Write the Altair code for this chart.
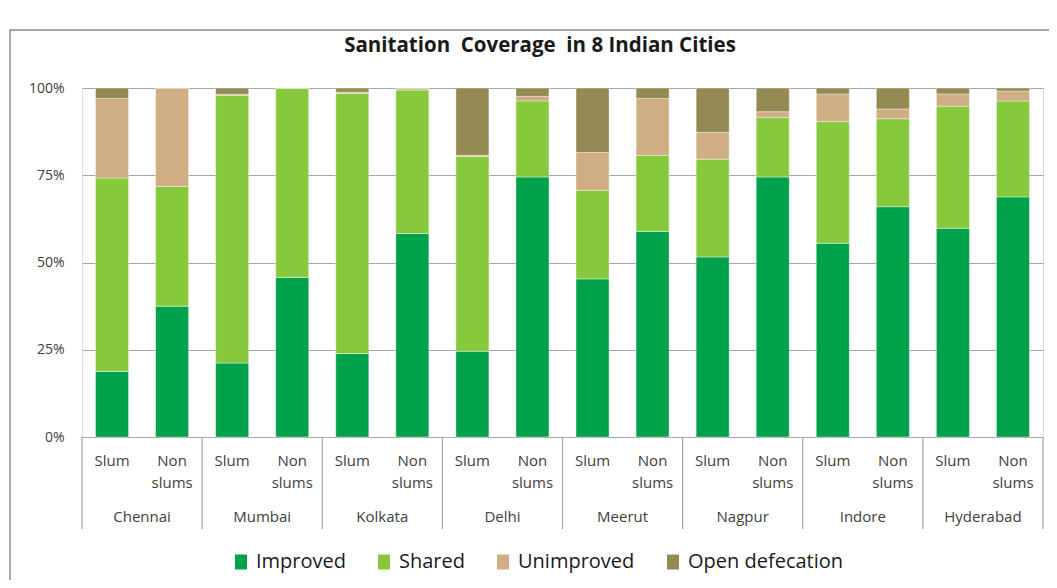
import altair as alt
import pandas as pd

cities = ["Chennai", "Mumbai", "Kolkata", "Delhi", "Meerut", "Nagpur", "Indore", "Hyderabad"]
types = ["Slum", "Non slums"]
type_labels = ["Slum", "Non\nslums"]
categories = ["Improved", "Shared", "Unimproved", "Open defecation"]
colors = ["#00A14B", "#87C93C", "#CFAE84", "#948A54"]

# order: city by city, Slum then Non slums
improved = [18.8, 37.5, 21.2, 45.7, 23.9, 58.3, 24.6, 74.5, 45.3, 58.9, 51.6, 74.5, 55.5, 66.0, 59.8, 68.8]
shared = [55.4, 34.3, 76.7, 54.3, 74.5, 41.1, 55.8, 21.8, 25.4, 21.8, 28.0, 17.1, 34.9, 25.2, 35.0, 27.5]
unimproved = [22.8, 28.2, 0.3, 0.0, 0.4, 0.6, 0.3, 1.3, 10.8, 16.3, 7.7, 1.6, 7.9, 2.8, 3.5, 2.8]
open_def = [3.0, 0.0, 1.8, 0.0, 1.2, 0.0, 19.3, 2.4, 18.5, 3.0, 12.7, 6.8, 1.7, 6.0, 1.7, 0.9]

series = [improved, shared, unimproved, open_def]
rows = []
i = 0
for c in cities:
    for t in types:
        for k, cat in enumerate(categories):
            rows.append({"city": c, "type": t, "category": cat, "order": k, "value": series[k][i]})
        i += 1
df = pd.DataFrame(rows)

lab_rows = []
for c in cities:
    for t, tl in zip(types, type_labels):
        lab_rows.append({"city": c, "type": t, "label": tl})
labels_df = pd.DataFrame(lab_rows)
cities_df = pd.DataFrame({"city": cities})

W, H = 961, 349
FONT = "Open Sans"
GRID = "#A6A6A6"

x_city = alt.X("city:N", sort=cities, title=None,
               scale=alt.Scale(paddingInner=0, paddingOuter=0),
               axis=alt.Axis(ticks=False, domain=False, labelAngle=0, labelFontSize=15,
                             labelFont=FONT, labelColor="#404040", labelPadding=72,
                             labelBaseline="top"))
x_off = alt.XOffset("type:N", sort=types,
                    scale=alt.Scale(paddingInner=0.45, paddingOuter=0.225))

bars = alt.Chart(df).mark_bar(stroke="white", strokeWidth=0.4).encode(
    x=x_city,
    xOffset=x_off,
    y=alt.Y("value:Q", stack="normalize", title=None,
            scale=alt.Scale(domain=[0, 1], nice=False),
            axis=alt.Axis(format=".0%", values=[0, 0.25, 0.5, 0.75, 1], grid=True,
                          gridColor=GRID, gridWidth=1.2, domain=False, ticks=False,
                          labelFontSize=14, labelFont=FONT, labelColor="#404040",
                          labelPadding=18)),
    color=alt.Color("category:N", sort=categories,
                    scale=alt.Scale(domain=categories, range=colors),
                    legend=alt.Legend(title=None, orient="none", legendX=149, legendY=464,
                                      direction="horizontal", columns=4,
                                      symbolType="M-0.8,-1H0.8V1H-0.8Z", symbolSize=225,
                                      symbolStrokeWidth=0, labelFontSize=20, labelFont=FONT,
                                      labelColor="#1a1a1a", labelOffset=5, columnPadding=28)),
    order=alt.Order("order:Q", sort="ascending"),
)

sublabels = alt.Chart(labels_df).mark_text(
    lineBreak="\n", baseline="top", fontSize=15, font=FONT, color="#404040", lineHeight=22
).encode(
    x=alt.X("city:N", sort=cities),
    xOffset=alt.XOffset("type:N", sort=types),
    y=alt.value(H + 17),
    text="label:N",
)

seps = alt.Chart(cities_df).mark_rule(color=GRID, strokeWidth=1.2).encode(
    x=alt.X("city:N", sort=cities, bandPosition=0),
    y=alt.value(H),
    y2=alt.value(H + 92),
)
sep_end = alt.Chart(cities_df.head(1)).mark_rule(color=GRID, strokeWidth=1.2).encode(
    x=alt.value(W),
    y=alt.value(H),
    y2=alt.value(H + 92),
)

frame = alt.Chart(cities_df.head(1)).mark_rect(
    fillOpacity=0, stroke="#8C8C8C", strokeWidth=1.5
).encode(
    x=alt.value(-72), x2=alt.value(W + 200),
    y=alt.value(-58), y2=alt.value(H + 300),
)

title = alt.Chart(cities_df.head(1)).mark_text(
    text="Sanitation\u00a0\u00a0Coverage\u00a0\u00a0in 8 Indian Cities", fontSize=20.5,
    fontWeight="bold", font=FONT, color="#1a1a1a", baseline="middle", align="center"
).encode(
    x=alt.value(458), y=alt.value(-42),
)

chart = alt.layer(frame, title, bars, seps, sep_end, sublabels).resolve_scale(
    x="shared"
).properties(
    width=W, height=H,
    autosize=alt.AutoSizeParams(type="none"),
    padding={"left": 74, "top": 80, "right": 6, "bottom": 143},
).configure_view(stroke=None).configure(background="white")

chart.save("out.html", embed_options={"renderer": "svg", "actions": False})
